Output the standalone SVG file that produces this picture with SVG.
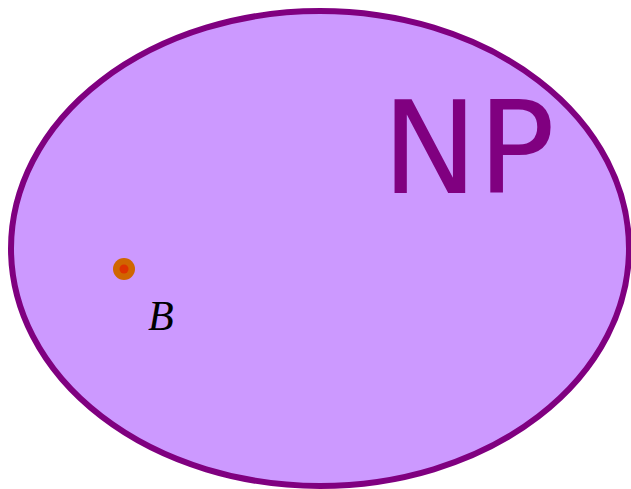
<svg xmlns="http://www.w3.org/2000/svg" width="631" height="489" viewBox="0 0 631 489">
<style>
.set{fill:#cc99ff;stroke:#800080;stroke-width:6}
.np{font-family:"DejaVu Sans",sans-serif;font-size:128px;fill:#800080}
.lbl{font-family:"Liberation Serif",serif;font-style:italic;font-size:42px;fill:#000}
</style>
<g id="np-set">
<ellipse class="set" cx="320" cy="248.5" rx="309" ry="237.5"/>
<text class="np" x="382" y="193">NP</text>
</g>
<g id="b-point">
<circle cx="124" cy="269" r="11" fill="#d06600"/>
<circle cx="124" cy="269" r="4.5" fill="#dd3300"/>
<text class="lbl" x="148" y="330">B</text>
</g>
<g id="connectors"/>
</svg>
